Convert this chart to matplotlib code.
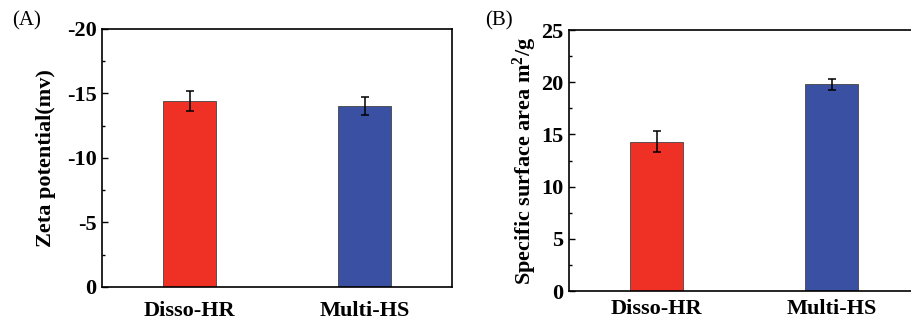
import matplotlib.pyplot as plt
from matplotlib.ticker import MultipleLocator, FuncFormatter

# ---- Data ----
samples = ["Disso-HR", "Multi-HS"]
zeta = [14.4, 14.0]          # plotted as magnitude, axis labels negative
zeta_err = [0.8, 0.7]
ssa = [14.3, 19.8]
ssa_err = [1.0, 0.5]
colors = ["#EE3124", "#3A51A3"]

plt.rcParams['font.family'] = ['Liberation Serif', 'DejaVu Serif']
plt.rcParams['mathtext.fontset'] = 'custom'
plt.rcParams['mathtext.rm'] = 'Liberation Serif:bold'
plt.rcParams['mathtext.it'] = 'Liberation Serif:bold'
plt.rcParams['mathtext.bf'] = 'Liberation Serif:bold'

fig = plt.figure(figsize=(9.12, 3.23), dpi=100)
ax1 = fig.add_axes([0.1118, 0.1115, 0.384, 0.799])
ax2 = fig.add_axes([0.624, 0.099, 0.384, 0.808])


def style(ax, ymax, xpad):
    ax.set_xlim(-0.5, 1.5)
    ax.set_ylim(0, ymax)
    ax.yaxis.set_major_locator(MultipleLocator(5))
    ax.yaxis.set_minor_locator(MultipleLocator(2.5))
    ax.tick_params(axis='y', which='major', direction='in', length=4, width=1,
                   labelsize=16, pad=4)
    ax.tick_params(axis='y', which='minor', direction='in', length=2, width=1)
    ax.tick_params(axis='x', length=0, labelsize=16, pad=xpad)
    ax.set_xticks(range(len(samples)))
    ax.set_xticklabels(samples, fontweight='bold')
    for s in ax.spines.values():
        s.set_linewidth(1.2)


x = range(len(samples))
ax1.bar(x, zeta, width=0.3, color=colors, edgecolor='#444444', linewidth=0.6,
        yerr=zeta_err, capsize=3, error_kw=dict(elinewidth=1.1, capthick=1.1))
style(ax1, 20, 10)
ax1.yaxis.set_major_formatter(FuncFormatter(lambda v, p: "0" if v == 0 else f"-{v:g}"))
for lab in ax1.get_yticklabels():
    lab.set_fontweight('bold')
ax1.set_ylabel("Zeta potential(mv)", fontsize=16, fontweight='bold', labelpad=8)

ax2.bar(x, ssa, width=0.3, color=colors, edgecolor='#444444', linewidth=0.6,
        yerr=ssa_err, capsize=3, error_kw=dict(elinewidth=1.1, capthick=1.1))
style(ax2, 25, 6)
ax2.yaxis.set_major_formatter(FuncFormatter(lambda v, p: f"{v:g}"))
for lab in ax2.get_yticklabels():
    lab.set_fontweight('bold')
ax2.set_ylabel(r"Specific surface area m$^{\mathbf{2}}$/g", fontsize=16,
               fontweight='bold', labelpad=2)

fig.text(0.013, 0.92, "(A)", fontsize=15)
fig.text(0.532, 0.92, "(B)", fontsize=15)

fig.savefig("out.png", dpi=100)
